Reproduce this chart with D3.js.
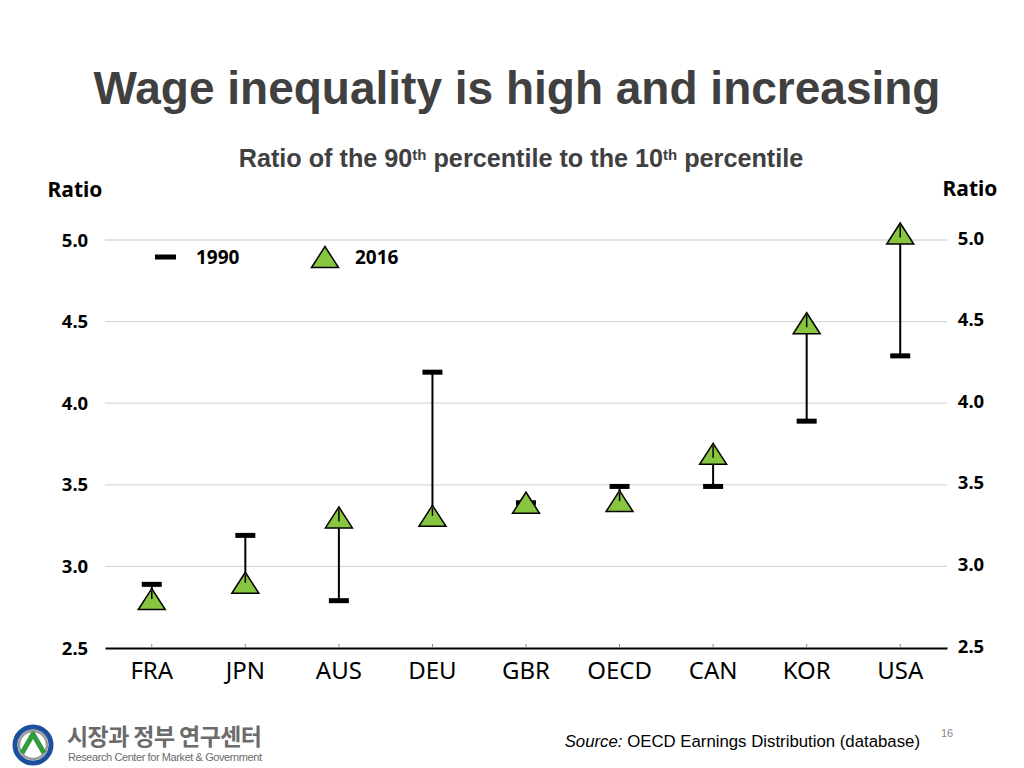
<!DOCTYPE html>
<html><head><meta charset="utf-8">
<script src="https://cdn.jsdelivr.net/npm/d3@7"></script>
<style>
body{margin:0;background:#fff;}
svg{display:block;}
</style></head>
<body>
<svg id="chart" width="1024" height="768"></svg>
<script>
const categories = ["FRA","JPN","AUS","DEU","GBR","OECD","CAN","KOR","USA"];
const values1990 = [2.89, 3.19, 2.79, 4.19, 3.39, 3.49, 3.49, 3.89, 4.29];
const values2016 = [2.80, 2.90, 3.30, 3.31, 3.39, 3.40, 3.69, 4.49, 5.04];
const yTicks = [2.5, 3.0, 3.5, 4.0, 4.5, 5.0];
const seriesNames = ["1990", "2016"];

(function () {
const svg = d3.select("#chart");
const mLeft = 105, mRight = 947, mTop = 240, mBottom = 648;
const x = d3.scaleBand().domain(categories).range([mLeft, mRight]);
const y = d3.scaleLinear().domain([2.5, 5.0]).range([mBottom, mTop]);
const sans = "'Noto Sans', 'Open Sans', sans-serif";
const arial = "'Liberation Sans', Arial, sans-serif";

// Title
svg.append("text").attr("x", 517).attr("y", 104).attr("text-anchor", "middle")
  .attr("font-family", arial).attr("font-weight", "bold").attr("font-size", 46)
  .attr("fill", "#404040").text("Wage inequality is high and increasing");

// Subtitle
const sub = svg.append("text").attr("x", 521).attr("y", 167).attr("text-anchor", "middle")
  .attr("font-family", arial).attr("font-weight", "bold").attr("font-size", 25.2).attr("fill", "#404040");
sub.append("tspan").text("Ratio of the 90");
sub.append("tspan").attr("font-size", 15).attr("dy", -7).text("th");
sub.append("tspan").attr("dy", 7).text(" percentile to the 10");
sub.append("tspan").attr("font-size", 15).attr("dy", -7).text("th");
sub.append("tspan").attr("dy", 7).text(" percentile");

// Axis titles
svg.append("text").attr("x", 75).attr("y", 197).attr("text-anchor", "middle")
  .attr("font-family", sans).attr("font-weight", "bold").attr("font-size", 21).attr("fill", "#000").text("Ratio");
svg.append("text").attr("x", 970).attr("y", 196).attr("text-anchor", "middle")
  .attr("font-family", sans).attr("font-weight", "bold").attr("font-size", 21).attr("fill", "#000").text("Ratio");

// Gridlines
svg.append("g").selectAll("line").data(yTicks.filter(d => d > 2.5)).join("line")
  .attr("x1", mLeft).attr("x2", mRight).attr("y1", d => y(d)).attr("y2", d => y(d))
  .attr("stroke", "#d9d9d9").attr("stroke-width", 1.3);

// Left axis labels
const fmt = d3.format(".1f");
svg.append("g").selectAll("text").data(yTicks).join("text")
  .attr("x", 75).attr("y", d => y(d)).attr("dy", "0.36em").attr("text-anchor", "middle")
  .attr("font-family", sans).attr("font-weight", "bold").attr("font-size", 18.5).attr("fill", "#000")
  .text(d => fmt(d));
// Right axis labels
svg.append("g").selectAll("text").data(yTicks).join("text")
  .attr("x", 971).attr("y", d => y(d) - 2).attr("dy", "0.36em").attr("text-anchor", "middle")
  .attr("font-family", sans).attr("font-weight", "bold").attr("font-size", 18.5).attr("fill", "#000")
  .text(d => fmt(d));

// X axis
const xAxis = svg.append("g").attr("transform", `translate(0,${mBottom})`)
  .call(d3.axisBottom(x).tickSize(0).tickPadding(14));
xAxis.select(".domain").attr("stroke", "#000").attr("stroke-width", 2.2);
xAxis.selectAll(".tick text").attr("font-family", sans).attr("font-size", 24).attr("fill", "#000");
xAxis.selectAll(".tick").append("line").attr("y1", 0).attr("y2", -4).attr("stroke", "#888").attr("stroke-width", 1);

const cx = d => x(d) + x.bandwidth() / 2;
const data = categories.map((c, i) => ({c, a: values1990[i], b: values2016[i]}));

// Connecting lines
svg.append("g").selectAll("line").data(data).join("line")
  .attr("x1", d => cx(d.c)).attr("x2", d => cx(d.c))
  .attr("y1", d => y(d.a)).attr("y2", d => y(d.b))
  .attr("stroke", "#000").attr("stroke-width", 2);

// 1990 dashes
svg.append("g").selectAll("rect").data(data).join("rect")
  .attr("x", d => cx(d.c) - 10).attr("y", d => y(d.a) - 2.5)
  .attr("width", 20).attr("height", 5).attr("fill", "#000");

// 2016 triangles
const tri = (w, h) => `M0,${-h/2}L${w/2},${h/2}L${-w/2},${h/2}Z`;
const green = "#88c540";
svg.append("g").selectAll("path").data(data).join("path")
  .attr("d", tri(27, 21))
  .attr("transform", d => `translate(${cx(d.c)},${y(d.b)})`)
  .attr("fill", green).attr("stroke", "#000").attr("stroke-width", 1.5).attr("stroke-linejoin", "miter");
// line continues into the marker
svg.append("g").selectAll("line").data(data).join("line")
  .attr("x1", d => cx(d.c)).attr("x2", d => cx(d.c))
  .attr("y1", d => y(d.b) - 8).attr("y2", d => y(d.b) + 4)
  .attr("stroke", "#000").attr("stroke-width", 1.5)
  .attr("display", d => d.a < d.b ? null : "none");
svg.append("g").selectAll("line").data(data).join("line")
  .attr("x1", d => cx(d.c)).attr("x2", d => cx(d.c))
  .attr("y1", d => Math.max(y(d.a), y(d.b) - 8)).attr("y2", d => y(d.b))
  .attr("stroke", "#000").attr("stroke-width", 1.5)
  .attr("display", d => d.a > d.b ? null : "none");

// Legend
const lg = svg.append("g");
lg.append("rect").attr("x", 155).attr("y", 254.5).attr("width", 21).attr("height", 5).attr("fill", "#000");
lg.append("text").attr("x", 196).attr("y", 257).attr("dy", "0.36em").attr("font-family", sans)
  .attr("font-weight", "bold").attr("font-size", 19).text(seriesNames[0]);
lg.append("path").attr("d", tri(27, 21)).attr("transform", "translate(325,257)")
  .attr("fill", green).attr("stroke", "#000").attr("stroke-width", 1.5);
lg.append("text").attr("x", 355).attr("y", 257).attr("dy", "0.36em").attr("font-family", sans)
  .attr("font-weight", "bold").attr("font-size", 19).text(seriesNames[1]);

// Source
const src = svg.append("text").attr("x", 920).attr("y", 747).attr("text-anchor", "end")
  .attr("font-family", arial).attr("font-size", 16.8).attr("fill", "#000");
src.append("tspan").attr("font-style", "italic").text("Source:");
src.append("tspan").text(" OECD Earnings Distribution (database)");
svg.append("text").attr("x", 947).attr("y", 737).attr("text-anchor", "middle")
  .attr("font-family", arial).attr("font-size", 11).attr("fill", "#888").text("16");

// Logo
const logo = svg.append("g").attr("transform", "translate(33,745)");
logo.append("circle").attr("r", 18).attr("fill", "none").attr("stroke", "#1e4f9c").attr("stroke-width", 5);
logo.append("circle").attr("r", 14).attr("fill", "#fff").attr("stroke", "#9a9a9a").attr("stroke-width", 2.5);
logo.append("path").attr("d", "M-11,8 L0,-11 L11,8").attr("fill", "none").attr("stroke", "#2e9b3e").attr("stroke-width", 5).attr("stroke-linejoin", "round");
svg.append("text").attr("x", 67).attr("y", 745).attr("font-family", "'Noto Sans CJK KR', sans-serif")
  .attr("font-weight", "bold").attr("font-size", 23).attr("fill", "#6b6b6b").attr("textLength", 195).text("시장과 정부 연구센터");
svg.append("text").attr("x", 68).attr("y", 761).attr("font-family", "'Liberation Sans Narrow', 'Liberation Sans', sans-serif")
  .attr("font-size", 11).attr("fill", "#6b6b6b").attr("textLength", 194).text("Research Center for Market & Government");
})();
</script>
</body></html>
